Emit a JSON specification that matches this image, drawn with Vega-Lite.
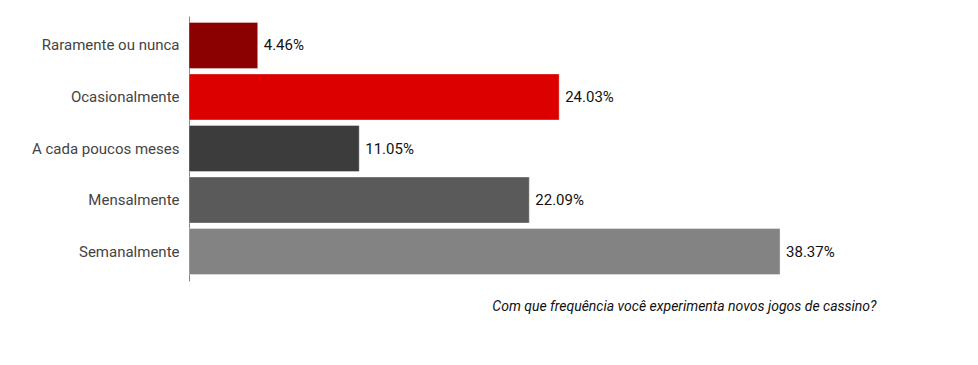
{
  "$schema": "https://vega.github.io/schema/vega-lite/v6.json",
  "autosize": "none",
  "width": 687,
  "height": 265,
  "padding": {"left": 189, "top": 16, "right": 102, "bottom": 84},
  "background": "white",
  "config": {"view": {"stroke": null}, "font": "Roboto"},
  "data": {"values": [
    {"cat": "Raramente ou nunca", "v": 4.46, "lbl": "4.46%", "c": "#8b0000"},
    {"cat": "Ocasionalmente", "v": 24.03, "lbl": "24.03%", "c": "#dc0000"},
    {"cat": "A cada poucos meses", "v": 11.05, "lbl": "11.05%", "c": "#3c3c3c"},
    {"cat": "Mensalmente", "v": 22.09, "lbl": "22.09%", "c": "#5a5a5a"},
    {"cat": "Semanalmente", "v": 38.37, "lbl": "38.37%", "c": "#838383"}
  ]},
  "encoding": {
    "y": {"field": "cat", "type": "nominal", "sort": null,
      "scale": {"paddingInner": 0.107, "paddingOuter": 0.125},
      "axis": {"title": null, "ticks": false, "labelPadding": 10, "labelFontSize": 15, "labelColor": "#444444", "labelFont": "Roboto", "domainColor": "#888888", "domainWidth": 1}},
    "x": {"field": "v", "type": "quantitative", "scale": {"domain": [0, 44.6]},
      "axis": {"title": "Com que frequência você experimenta novos jogos de cassino?", "grid": false, "domain": false, "ticks": false, "labels": false, "titleAnchor": "end", "titleFontStyle": "italic", "titleFontWeight": "normal", "titleFontSize": 14, "titleColor": "#111111", "titleFont": "Roboto", "titlePadding": 18}}
  },
  "layer": [
    {"mark": {"type": "bar", "stroke": "#ffffff", "strokeOpacity": 0.35, "strokeWidth": 1},
     "encoding": {"color": {"field": "c", "type": "nominal", "scale": null}}},
    {"mark": {"type": "text", "align": "left", "dx": 6, "fontSize": 15, "color": "#111111", "font": "Roboto"},
     "encoding": {"text": {"field": "lbl", "type": "nominal"}}}
  ]
}
